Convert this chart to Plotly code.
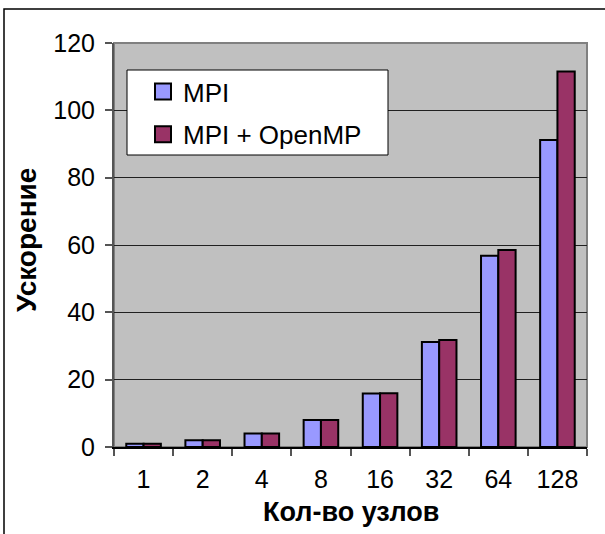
import plotly.graph_objects as go

# Speedup vs. number of nodes
nodes = ["1", "2", "4", "8", "16", "32", "64", "128"]
mpi = [1.0, 2.0, 4.0, 8.0, 15.9, 31.2, 56.8, 91.2]
mpi_omp = [1.0, 2.0, 4.0, 8.0, 16.0, 31.8, 58.5, 111.5]
series_names = ["MPI", "MPI + OpenMP"]
colors = ["#9999FF", "#993366"]
y_ticks = [0, 20, 40, 60, 80, 100, 120]

FONT = "Arial, Liberation Sans, sans-serif"

fig = go.Figure()
for name, vals, col in zip(series_names, [mpi, mpi_omp], colors):
    fig.add_trace(go.Bar(
        x=nodes, y=vals, name=name, showlegend=False,
        marker=dict(color=col, line=dict(color="black", width=2)),
    ))
    # legend entry with a larger square swatch
    fig.add_trace(go.Scatter(
        x=[None], y=[None], mode="markers", name=name, legendgroup=name,
        marker=dict(symbol="square", size=16, color=col,
                    line=dict(color="black", width=2)),
    ))

W, H = 605, 534
ml, mr, mt, mb = 114, 18, 43, 87
pw, ph = W - ml - mr, H - mt - mb


def px(x):
    return (x - ml) / pw


def py(y):
    return (H - mb - y) / ph


fig.update_layout(
    width=W, height=H,
    margin=dict(l=ml, r=mr, t=mt, b=mb),
    paper_bgcolor="white",
    plot_bgcolor="#C0C0C0",
    font=dict(family=FONT, size=25, color="black"),
    barmode="group", bargap=0.415, bargroupgap=0,
    showlegend=True,
    legend=dict(
        x=px(143), y=py(68), xanchor="left", yanchor="top",
        bgcolor="rgba(0,0,0,0)", borderwidth=0,
        font=dict(family=FONT, size=26),
        traceorder="grouped", tracegroupgap=6,
    ),
    xaxis=dict(
        type="category", showgrid=False,
        showline=True, linecolor="black", linewidth=2,
        ticks="outside", tickson="boundaries", ticklen=7,
        tickcolor="#555555", tickwidth=2,
        ticklabelstandoff=9,
        tickfont=dict(family=FONT, size=25),
    ),
    yaxis=dict(
        range=[0, 120], tickvals=y_ticks,
        showgrid=True, gridcolor="#202020", gridwidth=1,
        showline=True, linecolor="#555555", linewidth=2,
        ticks="outside", ticklen=7, tickcolor="#555555", tickwidth=2,
        ticklabelstandoff=5,
        tickfont=dict(family=FONT, size=25),
        zeroline=False,
    ),
    shapes=[
        # plot area border (top/right)
        dict(type="rect", xref="paper", yref="paper", x0=0, x1=1, y0=0, y1=1,
             line=dict(color="#808080", width=2), layer="below"),
        # legend box
        dict(type="rect", xref="paper", yref="paper",
             x0=px(127), x1=px(388), y0=py(155), y1=py(70),
             fillcolor="white", line=dict(color="black", width=1),
             layer="above"),
        # chart frame
        dict(type="rect", xref="paper", yref="paper",
             x0=px(4), x1=px(612), y0=py(545), y1=py(9),
             line=dict(color="black", width=1.5), layer="above"),
    ],
    annotations=[
        dict(text="<b>Кол-во узлов</b>", xref="paper", yref="paper",
             x=px(351), y=py(512), xanchor="center", yanchor="middle",
             showarrow=False, font=dict(family=FONT, size=27)),
        dict(text="<b>Ускорение</b>", xref="paper", yref="paper",
             x=px(26), y=py(240), xanchor="center", yanchor="middle",
             textangle=-90, showarrow=False, font=dict(family=FONT, size=28)),
    ],
)

fig.write_html("out.html")
